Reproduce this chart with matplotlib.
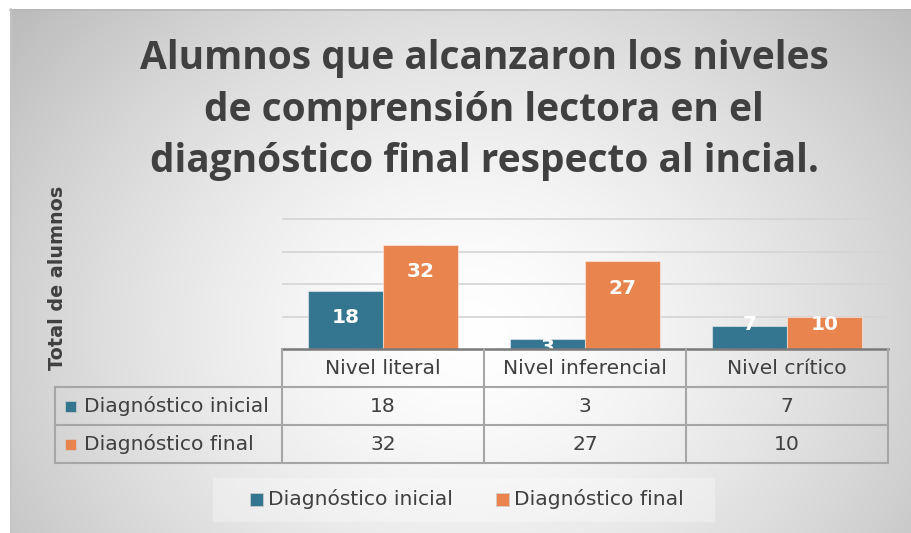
import numpy as np
import matplotlib.pyplot as plt
from matplotlib.patches import Rectangle

categorias = ['Nivel literal', 'Nivel inferencial', 'Nivel crítico']
series = ['Diagnóstico inicial', 'Diagnóstico final']
inicial = [18, 3, 7]
final = [32, 27, 10]
colores = ['#34768f', '#e9844e']
titulo = ['Alumnos que alcanzaron los niveles',
          'de comprensión lectora en el',
          'diagnóstico final respecto al incial.']
eje_y = 'Total de alumnos'

W, H = 911, 533
gris = '#404040'
plt.rcParams['font.family'] = ['DejaVu Sans']

fig = plt.figure(figsize=(W / 100, H / 100), dpi=100)

# fondo con degradado radial (como en Excel)
bg = fig.add_axes([0, 0, 1, 1], zorder=0)
yy, xx = np.mgrid[0:H, 0:W]
r = np.sqrt(((xx - 470) / 450) ** 2 + ((yy - 330) / 380) ** 2)
val = (255 - 45 * np.clip(r, 0, 1.35) ** 1.5) / 255
img = np.dstack([val, val, val])
img[:9, :] = 1
img[:, :10] = 1
bg.imshow(img, extent=[0, W, H, 0], aspect='auto', interpolation='bilinear')
bg.plot([10, W], [9.5, 9.5], color='#b8b8b8', lw=1.2)
bg.plot([10.5, 10.5], [9, H], color='#c4c4c4', lw=1.2)
bg.set_xlim(0, W)
bg.set_ylim(H, 0)
bg.axis('off')

# barras
ax = fig.add_axes([282 / W, 1 - 349 / H, 606 / W, 133 / H], zorder=2)
ax.patch.set_alpha(0)
x = np.arange(len(categorias))
ancho = 0.371
for vals, col, off in [(inicial, colores[0], -0.186), (final, colores[1], 0.186)]:
    ax.bar(x + off, vals, ancho, color=col, edgecolor=(1, 1, 1, 0.45), linewidth=0.8, zorder=3)
    for xi, v in zip(x + off, vals):
        if v > 16:
            ty = v - 8.2
        elif v > 5:
            ty = 7.5
        else:
            ty = v - 2.4
        ax.text(xi, ty, str(v), ha='center', va='center', color='white',
                fontsize=14.5, fontweight='bold', zorder=4, clip_on=True)
ax.set_xlim(-0.5, 2.5)
ax.set_ylim(0, 41)
ax.set_yticks([10, 20, 30, 40])
ax.yaxis.grid(True, color='#d4d4d4', lw=1.2)
ax.set_axisbelow(True)
ax.tick_params(left=False, bottom=False, labelleft=False, labelbottom=False)
for s in ax.spines.values():
    s.set_visible(False)

# tabla de datos
tb = fig.add_axes([0, 0, 1, 1], zorder=3)
tb.patch.set_alpha(0)
tb.set_xlim(0, W)
tb.set_ylim(H, 0)
tb.axis('off')
cols = 282 + 202 * np.arange(len(categorias) + 1)
filas = [349, 387, 425, 463]
lc = '#a6a6a6'
tb.plot([cols[0], cols[-1]], [filas[0], filas[0]], color='#7a7a7a', lw=1.8)
for fy in filas[1:]:
    tb.plot([55, cols[-1]], [fy, fy], color=lc, lw=1.5)
tb.plot([55, 55], [filas[1], filas[-1]], color=lc, lw=1.5)
for cx in cols:
    tb.plot([cx, cx], [filas[0], filas[-1]], color=lc, lw=1.5)

centros = (cols[:-1] + cols[1:]) / 2
for cx, cat, a, b in zip(centros, categorias, inicial, final):
    tb.text(cx, 368, cat, ha='center', va='center', fontsize=14.6, color=gris)
    tb.text(cx, 406, str(a), ha='center', va='center', fontsize=14.6, color=gris)
    tb.text(cx, 444, str(b), ha='center', va='center', fontsize=14.6, color=gris)
for fy, nombre, col in zip([406, 444], series, colores):
    tb.add_patch(Rectangle((65, fy - 5.5), 11, 11, facecolor=col, edgecolor='#d0d0d0', lw=0.5))
    tb.text(84, fy, nombre, ha='left', va='center', fontsize=14.6, color=gris)

# leyenda
tb.add_patch(Rectangle((213, 478), 502, 44, facecolor='white', alpha=0.3, edgecolor='none'))
for lx, nombre, col in zip([250, 496], series, colores):
    tb.add_patch(Rectangle((lx, 493), 13, 13, facecolor=col, edgecolor='#d0d0d0', lw=0.5))
    tb.text(lx + 18, 499, nombre, ha='left', va='center', fontsize=14.6, color=gris)

# título y eje
for linea, base in zip(titulo, [69, 121, 172]):
    tb.text(484, base, linea, ha='center', va='baseline', fontsize=28,
            fontweight='bold', color=gris, family=['Open Sans', 'DejaVu Sans'], zorder=5)
fig.text(58 / W, 1 - 278 / H, eje_y, ha='center', va='center', rotation=90,
         fontsize=13.8, fontweight='bold', color=gris, zorder=5)

fig.savefig('out.png', dpi=100)
